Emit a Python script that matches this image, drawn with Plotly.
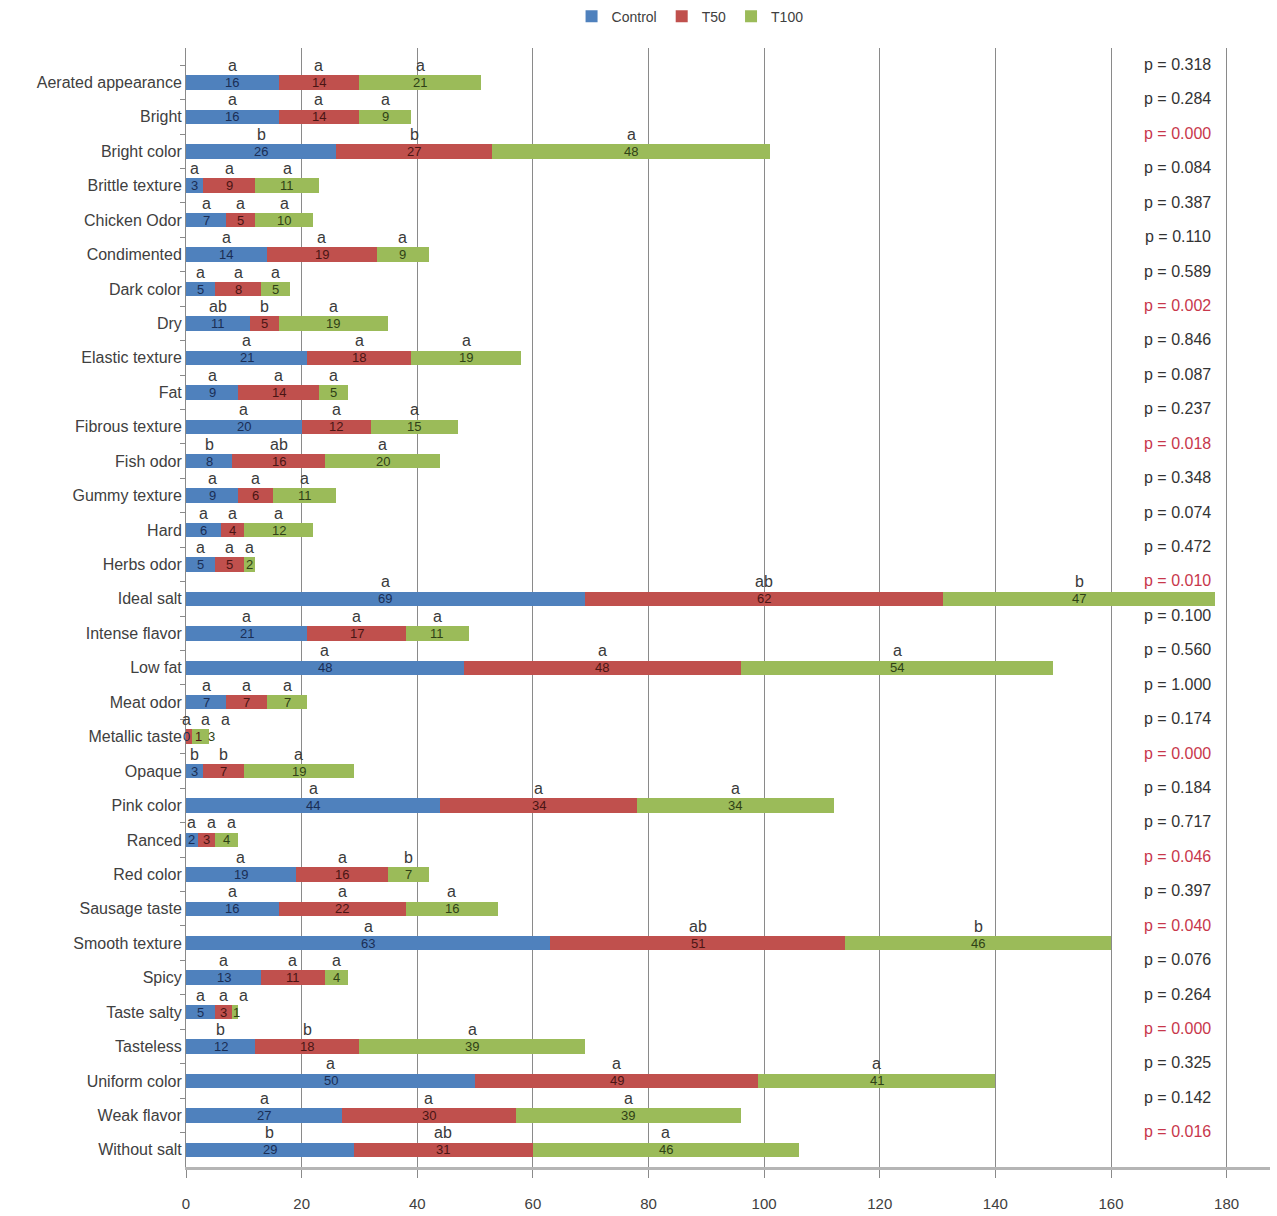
import plotly.graph_objects as go

categories = ["Aerated appearance", "Bright", "Bright color", "Brittle texture", "Chicken Odor",
              "Condimented", "Dark color", "Dry", "Elastic texture", "Fat", "Fibrous texture",
              "Fish odor", "Gummy texture", "Hard", "Herbs odor", "Ideal salt", "Intense flavor",
              "Low fat", "Meat odor", "Metallic taste", "Opaque", "Pink color", "Ranced",
              "Red color", "Sausage taste", "Smooth texture", "Spicy", "Taste salty", "Tasteless",
              "Uniform color", "Weak flavor", "Without salt"]

control = [16, 16, 26, 3, 7, 14, 5, 11, 21, 9, 20, 8, 9, 6, 5, 69, 21, 48, 7, 0, 3, 44, 2, 19, 16, 63, 13, 5, 12, 50, 27, 29]
t50 = [14, 14, 27, 9, 5, 19, 8, 5, 18, 14, 12, 16, 6, 4, 5, 62, 17, 48, 7, 1, 7, 34, 3, 16, 22, 51, 11, 3, 18, 49, 30, 31]
t100 = [21, 9, 48, 11, 10, 9, 5, 19, 19, 5, 15, 20, 11, 12, 2, 47, 11, 54, 7, 3, 19, 34, 4, 7, 16, 46, 4, 1, 39, 41, 39, 46]

letters_control = ["a", "a", "b", "a", "a", "a", "a", "ab", "a", "a", "a", "b", "a", "a", "a", "a", "a", "a", "a", "a", "b", "a", "a", "a", "a", "a", "a", "a", "b", "a", "a", "b"]
letters_t50 = ["a", "a", "b", "a", "a", "a", "a", "b", "a", "a", "a", "ab", "a", "a", "a", "ab", "a", "a", "a", "a", "b", "a", "a", "a", "a", "ab", "a", "a", "b", "a", "a", "ab"]
letters_t100 = ["a", "a", "a", "a", "a", "a", "a", "a", "a", "a", "a", "a", "a", "a", "a", "b", "a", "a", "a", "a", "a", "a", "a", "b", "a", "b", "a", "a", "a", "a", "a", "a"]

p_values = ["0.318", "0.284", "0.000", "0.084", "0.387", "0.110", "0.589", "0.002", "0.846", "0.087",
            "0.237", "0.018", "0.348", "0.074", "0.472", "0.010", "0.100", "0.560", "1.000", "0.174",
            "0.000", "0.184", "0.717", "0.046", "0.397", "0.040", "0.076", "0.264", "0.000", "0.325",
            "0.142", "0.016"]
significant = [float(p) < 0.05 for p in p_values]

series_names = ["Control", "T50", "T100"]
series_colors = ["#4F81BD", "#C0504D", "#9BBB59"]
number_colors = ["#1A2E55", "#4A1514", "#2F4116"]

FONT = "Liberation Sans, Arial, sans-serif"
MIN_LETTER_GAP = 3.4   # axis units, keeps letters of tiny segments apart
MIN_NUMBER_GAP = 2.2   # axis units, keeps numbers of tiny segments apart

fig = go.Figure()
all_series = [control, t50, t100]
for name, vals, col in zip(series_names, all_series, series_colors):
    fig.add_trace(go.Bar(
        y=categories, x=vals, name=name, orientation="h",
        marker=dict(color=col, line=dict(width=0)),
        width=0.42,
    ))

annotations = []
all_letters = [letters_control, letters_t50, letters_t100]
for i, cat in enumerate(categories):
    start = 0
    prev_letter_x = None
    prev_num_x = None
    for s in range(3):
        v = all_series[s][i]
        center = start + v / 2
        nx = center if prev_num_x is None else max(center, prev_num_x + MIN_NUMBER_GAP)
        prev_num_x = nx
        annotations.append(dict(
            x=nx, y=cat, xref="x", yref="y", text=str(v), showarrow=False,
            font=dict(family=FONT, size=13, color=number_colors[s]),
            xanchor="center", yanchor="middle", yshift=0))
        lx = center if prev_letter_x is None else max(center, prev_letter_x + MIN_LETTER_GAP)
        prev_letter_x = lx
        annotations.append(dict(
            x=lx, y=cat, xref="x", yref="y", text=all_letters[s][i], showarrow=False,
            font=dict(family=FONT, size=16, color="#3a3a3a"),
            xanchor="center", yanchor="middle", yshift=17))
        start += v
    annotations.append(dict(
        x=171.5, y=cat, xref="x", yref="y", text="p = " + p_values[i], showarrow=False,
        font=dict(family=FONT, size=16, color="#C8374B" if significant[i] else "#333333"),
        xanchor="center", yanchor="middle", yshift=18))

fig.update_layout(
    barmode="stack",
    width=1277, height=1216,
    margin=dict(l=186, r=7, t=48, b=49, autoexpand=False),
    plot_bgcolor="white", paper_bgcolor="white",
    font=dict(family=FONT, size=15, color="#404040"),
    annotations=annotations,
    legend=dict(orientation="h", x=0.465, y=1.028, xanchor="center", yanchor="middle",
                traceorder="normal",
                font=dict(family=FONT, size=14, color="#404040"),
                itemwidth=30, tracegroupgap=0),
    showlegend=True,
)
fig.update_xaxes(
    range=[0, 187.5], tickvals=list(range(0, 181, 20)),
    showgrid=True, gridcolor="#8a8a8a", gridwidth=1,
    showline=True, linecolor="#b5b5b5", linewidth=3,
    ticks="outside", ticklen=8, tickcolor="#8a8a8a",
    ticklabelstandoff=13, automargin=False,
    tickfont=dict(family=FONT, size=15, color="#404040"),
    zeroline=False,
)
fig.update_yaxes(
    type="category", categoryorder="array", categoryarray=categories,
    range=[31.5, -1.0], automargin=False,
    showgrid=False, showline=True, linecolor="#8a8a8a", linewidth=1,
    ticks="outside", ticklen=5, tickcolor="#8a8a8a", tickson="boundaries",
    tickfont=dict(family=FONT, size=16, color="#404040"),
)

fig.write_html("out.html")
